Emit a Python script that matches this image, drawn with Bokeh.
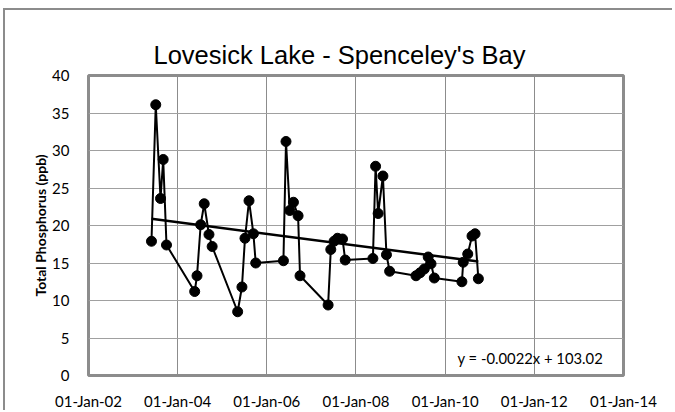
import numpy as np
import pandas as pd
from bokeh.plotting import figure
from bokeh.models import FixedTicker, Label, ColumnDataSource, Range1d, DatetimeTickFormatter
from bokeh.embed import file_html
from bokeh.resources import INLINE

# ---- data ----
sample_dates = [
    "2003-06-01", "2003-07-06", "2003-08-14", "2003-09-05", "2003-10-02",
    "2004-05-20", "2004-06-08", "2004-07-08", "2004-08-06", "2004-09-14", "2004-10-10",
    "2005-05-07", "2005-06-11", "2005-07-06", "2005-08-08", "2005-09-13", "2005-10-02",
    "2006-05-17", "2006-06-07", "2006-07-08", "2006-08-07", "2006-09-14", "2006-09-30",
    "2007-05-18", "2007-06-09", "2007-07-06", "2007-08-03", "2007-09-13", "2007-10-05",
    "2008-05-19", "2008-06-10", "2008-07-01", "2008-08-09", "2008-09-07", "2008-10-03",
    "2009-05-07", "2009-06-10", "2009-07-14", "2009-08-15", "2009-09-07", "2009-10-04",
    "2010-05-18", "2010-05-29", "2010-07-05", "2010-08-09", "2010-09-03", "2010-09-30",
]
total_phosphorus = [
    17.9, 36.1, 23.6, 28.8, 17.4,
    11.2, 13.3, 20.1, 22.9, 18.8, 17.2,
    8.5, 11.8, 18.3, 23.3, 18.9, 15.0,
    15.3, 31.2, 22.0, 23.1, 21.3, 13.3,
    9.4, 16.8, 17.9, 18.3, 18.2, 15.4,
    15.6, 27.9, 21.6, 26.6, 16.1, 13.9,
    13.3, 13.7, 14.2, 15.8, 14.9, 13.0,
    12.5, 15.1, 16.2, 18.6, 18.9, 12.9,
]
tick_dates = ["2002-01-01", "2004-01-01", "2006-01-01", "2008-01-01",
              "2010-01-01", "2012-01-01", "2014-01-01"]
tick_labels = ["01-Jan-02", "01-Jan-04", "01-Jan-06", "01-Jan-08",
               "01-Jan-10", "01-Jan-12", "01-Jan-14"]
y_ticks = [0, 5, 10, 15, 20, 25, 30, 35, 40]
title_text = "Lovesick Lake - Spenceley's Bay"
y_title = "Total Phosphorus (ppb)"
equation_text = "y = -0.0022x + 103.02"

# ---- derived ----
dts = pd.to_datetime(sample_dates)
x_dt = list(dts.to_pydatetime())
tick_ms = [pd.Timestamp(d).timestamp() * 1000.0 for d in tick_dates]

# least-squares trend line (Excel style: x in day serials)
serial = np.array([(d - pd.Timestamp("1899-12-30")).days for d in dts], dtype=float)
slope, intercept = np.polyfit(serial, np.array(total_phosphorus), 1)
trend_x = [x_dt[0], x_dt[-1]]
trend_y = [slope * serial[0] + intercept, slope * serial[-1] + intercept]

src = ColumnDataSource(dict(x=x_dt, y=total_phosphorus))

p = figure(
    width=669, height=402,
    x_axis_type="datetime",
    x_range=Range1d(tick_ms[0], tick_ms[-1]),
    y_range=Range1d(y_ticks[0], y_ticks[-1]),
    output_backend="svg", toolbar_location=None,
    min_border_left=83, min_border_right=51, min_border_top=65, min_border_bottom=35,
    background_fill_color="white", border_fill_color="white",
    styles={"margin-left": "3px", "margin-top": "8px",
            "border-left": "2px solid #8c8c8c", "border-top": "2px solid #8c8c8c"},
)

# title
p.title.text = title_text
p.title.align = "left"
p.title.offset = 65
p.title.text_font = "Liberation Sans"
p.title.text_font_size = "25.5px"
p.title.text_font_style = "normal"
p.title.text_color = "#000000"
p.title.standoff = 13

# grid
p.xgrid.ticker = FixedTicker(ticks=tick_ms)
p.xgrid.grid_line_color = "#8c8c8c"
p.xgrid.grid_line_width = 1
p.ygrid.ticker = FixedTicker(ticks=y_ticks)
p.ygrid.grid_line_color = "#a0a0a0"
p.ygrid.grid_line_width = 1

p.outline_line_color = "#8c8c8c"
p.outline_line_width = 3

# axes
xa = p.xaxis[0]
xa.ticker = FixedTicker(ticks=tick_ms)
fmt = "%d-%b-%y"
xa.formatter = DatetimeTickFormatter(
    microseconds=fmt, milliseconds=fmt, seconds=fmt, minsec=fmt, minutes=fmt,
    hourmin=fmt, hours=fmt, days=fmt, months=fmt, years=fmt)
xa.major_label_overrides = {t: l for t, l in zip(tick_ms, tick_labels)}
ya = p.yaxis[0]
ya.ticker = FixedTicker(ticks=y_ticks)
for ax in (xa, ya):
    ax.axis_line_color = None
    ax.major_tick_line_color = None
    ax.minor_tick_line_color = None
    ax.major_tick_out = 0
    ax.major_tick_in = 0
    ax.major_label_text_font = "Lato"
    ax.major_label_text_font_size = "15px"
    ax.major_label_text_color = "#000000"
xa.major_label_standoff = 16
ya.major_label_standoff = 19
ya.axis_label = y_title
ya.axis_label_text_font = "Lato"
ya.axis_label_text_font_style = "bold"
ya.axis_label_text_font_size = "14px"
ya.axis_label_text_color = "#000000"
ya.axis_label_standoff = 0

# data
p.line("x", "y", source=src, line_color="black", line_width=2)
p.scatter("x", "y", source=src, marker="circle", size=10,
          fill_color="black", line_color="black")
p.line(trend_x, trend_y, line_color="black", line_width=2.5)

# equation
p.add_layout(Label(x=369, y=18, x_units="screen", y_units="screen",
                   text=equation_text, text_align="left", text_baseline="middle",
                   text_font="Lato", text_font_size="14.8px",
                   text_color="#000000"))

open("out.html", "w").write(file_html(p, INLINE))
